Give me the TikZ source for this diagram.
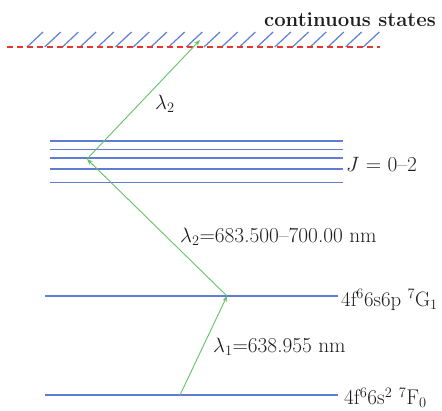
\documentclass[tikz,border=0pt]{standalone}
\usetikzlibrary{arrows.meta}
\definecolor{lvl}{RGB}{95,125,210}
\definecolor{grn}{RGB}{100,195,100}
\definecolor{rd}{RGB}{232,55,45}
\definecolor{txt}{RGB}{30,30,30}
\begin{document}
\begin{tikzpicture}[x=1pt,y=-1pt,
  level/.style={draw=lvl,line width=1.4pt},
  trans/.style={draw=grn,line width=0.9pt,-{Stealth[length=6pt,width=4.5pt]}},
  lbl/.style={font=\fontsize{21.3}{24}\selectfont,text=txt,inner sep=0pt,anchor=west},
  hatchline/.style={draw=lvl,line width=1.2pt},
  contline/.style={draw=rd,line width=1.1pt,dash pattern=on 6pt off 4pt}]
\useasboundingbox (0,0) rectangle (442,410);
% continuum
\foreach \i in {0,...,19}{
  \draw[hatchline] ({27+\i*17.7},47) -- ({43+\i*17.7},32);
}
\draw[contline] (7,47) -- (380,47);
\node[lbl,anchor=east,font=\fontsize{20.3}{24}\selectfont\bfseries] (cont) at (436,20) {continuous states};
% J levels
\foreach \yy in {141,149.3,158,169,182.3}{
  \draw[level] (50,\yy) -- (343,\yy);
}
\node[lbl] (jlab) at (346,165) {$J$ = 0--2};
% G1 and F0
\draw[level] (45,296) -- (338,296);
\node[lbl,font=\fontsize{20.8}{24}\selectfont] (glab) at (341,300) {4f$^6$6s6p $^7$G$_1$};
\draw[level] (45,395) -- (338,395);
\node[lbl] (flab) at (344,398) {4f$^6$6s$^2$ $^7$F$_0$};
% transition points
\coordinate (f) at (180,395);
\coordinate (g) at (227,296);
\coordinate (j) at (87,159);
\coordinate (c) at (200,40);
\draw[trans] (f) -- (g);
\draw[trans] (g) -- (j);
\draw[trans] (j) -- (c);
\node[lbl] (l1) at (213,347) {$\lambda_1$=638.955 nm};
\node[lbl] (l2) at (180,237) {$\lambda_2$=683.500--700.00 nm};
\node[lbl] (l2u) at (155,104) {$\lambda_2$};
\end{tikzpicture}
\end{document}
